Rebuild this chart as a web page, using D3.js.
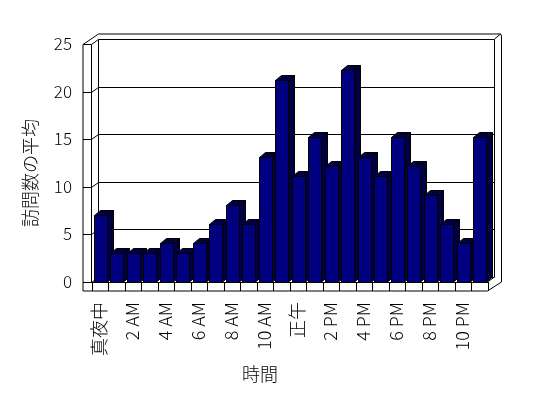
<!DOCTYPE html>
<html>
<head>
<meta charset="utf-8">
<script src="https://cdn.jsdelivr.net/npm/d3@7"></script>
<style>
body { margin: 0; background: #fff; }
svg { display: block; }
text { font-family: "Noto Sans CJK JP", sans-serif; font-weight: 300; fill: #000; }
.labels { opacity: 0.999; }
.line { fill: none; stroke: #000; stroke-width: 1; shape-rendering: crispEdges; }
</style>
</head>
<body>
<svg width="548" height="398"></svg>
<script>
var hours = d3.range(24);
var visits = [7, 3, 3, 3, 4, 3, 4, 6, 8, 6, 13, 21, 11, 15, 12, 22, 13, 11, 15, 12, 9, 6, 4, 15];
var hourLabels = ["真夜中", "2 AM", "4 AM", "6 AM", "8 AM", "10 AM", "正午", "2 PM", "4 PM", "6 PM", "8 PM", "10 PM"];
var yTicks = [0, 5, 10, 15, 20, 25];

var svg = d3.select("svg");

// plot box (front plane) and depth of the walls
var x0 = 91.5, x1 = 487.5, base = 282, floorBottom = 291, outerX = 83;
var dx = 7, dy = -5;

var xScale = d3.scaleBand().domain(hours).range([x0, x1]);
var yScale = d3.scaleLinear().domain([0, 25]).range([base, 44]);
var barScale = d3.scaleLinear().domain([0, 25]).range([base, 41]);

// dither pattern for the shaded faces
var defs = svg.append("defs");
var pat = defs.append("pattern")
  .attr("id", "dither")
  .attr("patternUnits", "userSpaceOnUse")
  .attr("width", 2).attr("height", 2);
pat.append("rect").attr("width", 2).attr("height", 2).attr("fill", "#000080");
pat.append("rect").attr("width", 1).attr("height", 1).attr("fill", "#000");
pat.append("rect").attr("x", 1).attr("y", 1).attr("width", 1).attr("height", 1).attr("fill", "#000");

var g = svg.append("g");

function pts(a) { return a.map(function(p) { return p.join(","); }).join(" "); }

// walls
var topY = yScale(25);
g.append("polygon") // left wall strip + inner face
  .attr("points", pts([[outerX, topY], [x0 + dx, topY + dy - 5], [x0 + dx, base + dy], [x0, base], [outerX, base]]))
  .attr("fill", "#fff");
g.append("rect")
  .attr("x", x0 + dx).attr("y", topY + dy - 5)
  .attr("width", x1 + 2 * dx - x0 - dx - 0.5).attr("height", base + 1 - topY)
  .attr("fill", "#fff");

// gridlines: front tick across the wall strip, diagonal on the side wall, across the back wall
g.selectAll(".grid")
  .data(yTicks)
  .enter()
  .append("path")
  .attr("class", "line")
  .style("shape-rendering", "auto")
  .attr("d", function(d) {
    var y = Math.round(yScale(d)) + 0.5;
    return "M" + outerX + "," + y + "H" + x0 + "L" + (x0 + dx) + "," + (y + dy) + "H" + (x1 + dx);
  });

// wall edges
g.append("path")
  .attr("class", "line")
  .style("shape-rendering", "auto")
  .attr("d",
    "M" + outerX + "," + floorBottom + "V" + (topY + 0.5) +
    "L" + (x0 + dx) + "," + (topY + 2 * dy) + "H" + (x1 + 2 * dx - 1) +
    "L" + (x1 + 2 * dx) + "," + (topY + 2 * dy + 2) + "V" + base +
    "L" + x1 + "," + floorBottom + "H" + outerX +
    "M" + x0 + "," + base + "V" + (topY + 0.5) +
    "M" + (x0 + dx) + "," + (topY + dy) + "V" + (base + dy) +
    "M" + (x1 + dx) + "," + (topY + dy) + "V" + (base + dy) + "L" + x1 + "," + base +
    "M" + (x1 + dx) + "," + (topY + dy) + "L" + (x1 + 2 * dx - 1) + "," + (topY + 2 * dy)
  );

// floor front face with category dividers
g.selectAll(".div")
  .data(hours.concat([24]))
  .enter()
  .append("line")
  .attr("class", "line")
  .attr("x1", function(d) { return Math.round(d < 24 ? xScale(d) : x1) + 0.5; })
  .attr("x2", function(d) { return Math.round(d < 24 ? xScale(d) : x1) + 0.5; })
  .attr("y1", base)
  .attr("y2", floorBottom);

// bars
var bw = 13, bdx = 6, bdy = -5;
var bars = g.selectAll(".bar")
  .data(hours)
  .enter()
  .append("g")
  .attr("class", "bar");

bars.append("polygon") // side
  .attr("points", function(d) {
    var x = Math.round(xScale(d)) + 2.5, yt = Math.round(barScale(visits[d])) + 0.5;
    return pts([[x + bw, yt], [x + bw + bdx, yt + bdy], [x + bw + bdx, base + bdy], [x + bw, base]]);
  })
  .attr("fill", "url(#dither)")
  .attr("stroke", "#000");

bars.append("polygon") // top
  .attr("points", function(d) {
    var x = Math.round(xScale(d)) + 2.5, yt = Math.round(barScale(visits[d])) + 0.5;
    return pts([[x, yt], [x + bw, yt], [x + bw + bdx, yt + bdy], [x + bdx, yt + bdy]]);
  })
  .attr("fill", "url(#dither)")
  .attr("stroke", "#000");

bars.append("rect") // front
  .attr("x", function(d) { return Math.round(xScale(d)) + 2.5; })
  .attr("y", function(d) { return Math.round(barScale(visits[d])) + 0.5; })
  .attr("width", bw)
  .attr("height", function(d) { return base - Math.round(barScale(visits[d])); })
  .attr("fill", "#000080")
  .attr("stroke", "#000")
  .style("shape-rendering", "crispEdges");

// floor front edge on top of bar bottoms
g.append("line")
  .attr("class", "line")
  .attr("x1", outerX).attr("x2", x1)
  .attr("y1", base + 0.5).attr("y2", base + 0.5);

var labels = svg.append("g").attr("class", "labels");

// y labels
labels.selectAll(".ylab")
  .data(yTicks)
  .enter()
  .append("text")
  .attr("x", 72)
  .attr("y", function(d) { return yScale(d); })
  .attr("dy", "0.35em")
  .attr("text-anchor", "end")
  .style("font-size", "17px")
  .text(function(d) { return d; });

// x labels (every second hour)
labels.selectAll(".xlab")
  .data(hourLabels)
  .enter()
  .append("text")
  .attr("transform", function(d, i) {
    var cx = xScale(i * 2) + xScale.bandwidth() / 2;
    return "translate(" + cx + ",302) rotate(-90)";
  })
  .attr("dy", "0.35em")
  .attr("text-anchor", "end")
  .style("font-size", "18px")
  .text(function(d) { return d; });

// axis titles
labels.append("text")
  .attr("transform", "translate(31,173) rotate(-90)")
  .attr("dy", "0.35em")
  .attr("text-anchor", "middle")
  .style("font-size", "18px")
  .text("訪問数の平均");

labels.append("text")
  .attr("x", 260)
  .attr("y", 375)
  .attr("dy", "0.35em")
  .attr("text-anchor", "middle")
  .style("font-size", "18px")
  .text("時間");
</script>
</body>
</html>
